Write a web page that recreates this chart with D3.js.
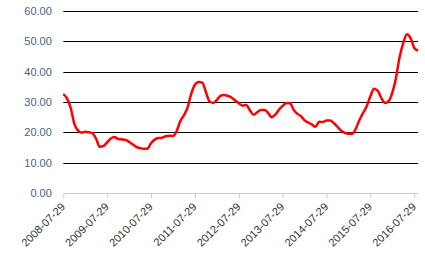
<!DOCTYPE html>
<html>
<head>
<meta charset="utf-8">
<script src="https://cdn.jsdelivr.net/npm/d3@7"></script>
<style>
  body { margin: 0; background: #fff; }
  text { font-family: "Liberation Sans", Arial, sans-serif; }
</style>
</head>
<body>
<div id="chart"></div>
<script>
(function() {
  var startDate, values, dates, tickLabels, yTicks, width, height, margin, svg, x, y, line, parse, fmt;

  // monthly values, first one on 2008-07-29
  startDate = '2008-07-29';
  values = [
    32.6, 31.2, 28.0, 22.8, 20.6, 19.9, 20.2, 20.0, 19.7, 17.8,
    15.2, 15.5, 16.7, 18.0, 18.5, 17.8, 17.7, 17.5, 16.8, 16.0,
    15.2, 14.8, 14.6, 14.6, 16.4, 17.6, 18.1, 18.2, 18.7, 18.9,
    18.8, 20.5, 23.6, 25.6, 28.1, 32.7, 35.6, 36.6, 36.4, 33.3,
    30.2, 29.7, 30.7, 32.1, 32.3, 32.0, 31.5, 30.5, 29.6, 28.8,
    29.0, 27.3, 25.8, 26.6, 27.4, 27.4, 26.4, 25.0, 25.8, 27.5,
    28.7, 29.7, 29.6, 27.4, 26.1, 25.3, 23.9, 23.2, 22.6, 21.8,
    23.5, 23.4, 23.9, 23.9, 23.0, 21.8, 20.5, 19.8, 19.5, 19.5,
    21.1, 24.0, 26.3, 28.6, 31.8, 34.4, 33.7, 31.3, 29.7, 30.3,
    33.2, 38.2, 44.8, 49.5, 52.3, 51.0, 47.8, 46.9
  ];

  tickLabels = ['2008-07-29', '2009-07-29', '2010-07-29', '2011-07-29', '2012-07-29',
                '2013-07-29', '2014-07-29', '2015-07-29', '2016-07-29'];

  yTicks = [0, 10, 20, 30, 40, 50, 60];

  width = 425;
  height = 257;
  margin = {top: 11, right: 7, bottom: 64, left: 63.3};

  parse = d3.utcParse('%Y-%m-%d');
  fmt = d3.format('.2f');

  dates = values.map(function(v, i) {
    return d3.utcMonth.offset(parse(startDate), i);
  });

  svg = d3.select('#chart').append('svg').attr('width', width).attr('height', height);

  x = d3.scaleUtc()
    .domain([parse(startDate), dates[dates.length - 1]])
    .range([margin.left, width - margin.right]);

  y = d3.scaleLinear()
    .domain([0, 60])
    .range([height - margin.bottom, margin.top]);

  // grid lines
  svg.append('g')
    .selectAll('line')
    .data(yTicks.filter(function(d) { return d > 0; }))
    .enter().append('line')
    .attr('x1', margin.left)
    .attr('x2', width - margin.right)
    .attr('y1', function(d) { return Math.round(y(d)) + 0.5; })
    .attr('y2', function(d) { return Math.round(y(d)) + 0.5; })
    .attr('stroke', '#000')
    .attr('stroke-width', 1.2);

  // y labels
  svg.append('g')
    .selectAll('text')
    .data(yTicks)
    .enter().append('text')
    .attr('x', margin.left - 11.5)
    .attr('y', function(d) { return y(d); })
    .attr('dy', '0.35em')
    .attr('text-anchor', 'end')
    .attr('font-size', '11px')
    .attr('fill', '#4d6380')
    .text(function(d) { return fmt(d); });

  // x axis
  var xAxis = d3.axisBottom(x)
    .tickValues(tickLabels.map(function(d) { return parse(d); }))
    .tickSize(5)
    .tickFormat(d3.utcFormat('%Y-%m-%d'));

  var gx = svg.append('g')
    .attr('transform', 'translate(0,' + (Math.round(y(0)) + 0.5) + ')')
    .call(xAxis);

  gx.select('.domain').attr('stroke', '#ccc').attr('d', 'M' + margin.left + ',0H' + (width - margin.right));
  gx.selectAll('.tick line').attr('stroke', '#ccc');
  gx.selectAll('.tick text')
    .attr('font-size', '11px')
    .attr('font-family', '"Liberation Sans", Arial, sans-serif')
    .attr('fill', '#333')
    .attr('text-anchor', 'end')
    .attr('dy', null)
    .attr('y', 0)
    .attr('transform', 'translate(2,14) rotate(-45)');

  // series line
  line = d3.line()
    .x(function(d, i) { return x(dates[i]); })
    .y(function(d) { return y(d); })
    .curve(d3.curveMonotoneX);

  svg.append('path')
    .datum(values)
    .attr('d', line)
    .attr('fill', 'none')
    .attr('stroke', '#ff0000')
    .attr('stroke-width', 2.5)
    .attr('stroke-linejoin', 'round');
})();
</script>
</body>
</html>
